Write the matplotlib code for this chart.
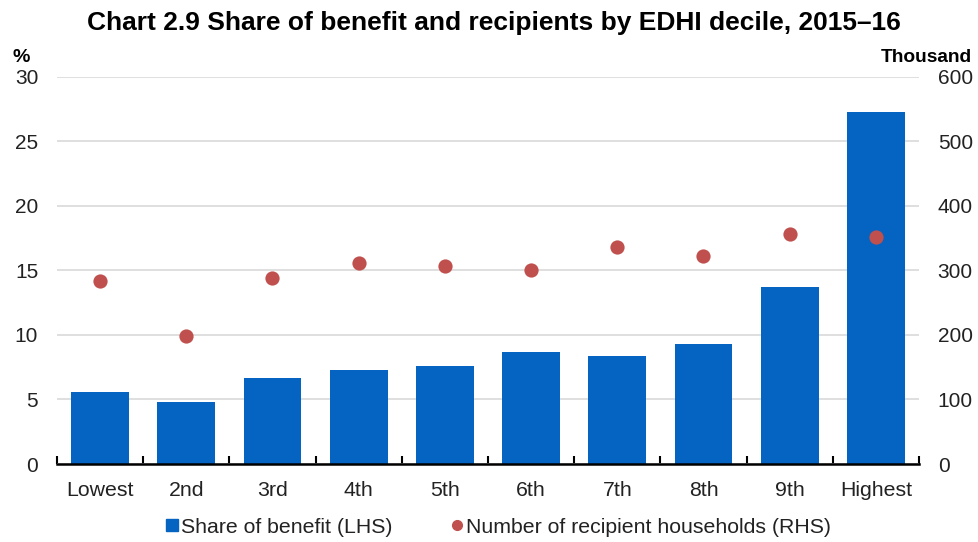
import matplotlib
matplotlib.use("Agg")
import matplotlib.pyplot as plt
import numpy as np
from matplotlib.lines import Line2D

plt.rcParams['font.family'] = ['Liberation Sans', 'DejaVu Sans']

categories = ["Lowest", "2nd", "3rd", "4th", "5th", "6th", "7th", "8th", "9th", "Highest"]
share_of_benefit = [5.6, 4.8, 6.7, 7.3, 7.6, 8.7, 8.4, 9.3, 13.7, 27.3]
recipient_households = [284, 198, 289, 311, 307, 301, 336, 322, 357, 352]
left_ticks = [0, 5, 10, 15, 20, 25, 30]
right_ticks = [0, 100, 200, 300, 400, 500, 600]

bar_color = "#0563C1"
dot_color = "#C0504D"

fig = plt.figure(figsize=(9.79, 5.42), dpi=100)
ax = fig.add_axes([0.0582, 0.1439, 0.8805, 0.7141])
ax2 = ax.twinx()

x = np.arange(len(categories))
ax.bar(x, share_of_benefit, width=0.67, color=bar_color, zorder=2)
ax2.scatter(x, recipient_households, s=105, color=dot_color, zorder=3, linewidths=0)

ax.set_xlim(-0.5, len(categories) - 0.5)
ax.set_ylim(0, 30)
ax2.set_ylim(0, 600)
ax.set_yticks(left_ticks)
ax2.set_yticks(right_ticks)
ax.grid(axis='y', color='#D9D9D9', linewidth=1.2, zorder=0)
ax.set_axisbelow(True)

for a in (ax, ax2):
    for s in ('top', 'left', 'right'):
        a.spines[s].set_visible(False)
ax2.spines['bottom'].set_visible(False)
ax.spines['bottom'].set_linewidth(1.8)
ax.spines['bottom'].set_color('black')
ax.spines['bottom'].set_zorder(4)

ax.tick_params(axis='y', length=0, labelsize=15, pad=13.5, labelcolor='#222222')
ax2.tick_params(axis='y', length=0, labelsize=15, pad=13.5, labelcolor='#222222')

ax.set_xticks(x)
ax.set_xticklabels(categories, fontsize=15.3, color='#222222')
ax.tick_params(axis='x', which='major', length=0, pad=12)
ax.set_xticks(np.arange(-0.5, len(categories), 1.0), minor=True)
ax.tick_params(axis='x', which='minor', direction='in', length=6, width=1.5, color='black')

fig.text(0.5046, 0.958, "Chart 2.9 Share of benefit and recipients by EDHI decile, 2015\u201316",
         ha='center', va='center', fontsize=19, fontweight='bold')
fig.text(0.0123, 0.894, "%", ha='left', va='center', fontsize=14, fontweight='bold')
fig.text(0.993, 0.894, "Thousand", ha='right', va='center', fontsize=13.8, fontweight='bold')

handles = [
    Line2D([], [], marker='s', linestyle='none', color=bar_color, markersize=8),
    Line2D([], [], marker='o', linestyle='none', color=dot_color, markersize=7),
]
fig.legend(handles, ["Share of benefit (LHS)", "Number of recipient households (RHS)"],
           loc='center', bbox_to_anchor=(0.508, 0.027), ncol=2, frameon=False,
           fontsize=15.3, handletextpad=0.05, columnspacing=2.6, handlelength=0.8,
           labelcolor='#222222')

fig.savefig("out.png", dpi=100)
